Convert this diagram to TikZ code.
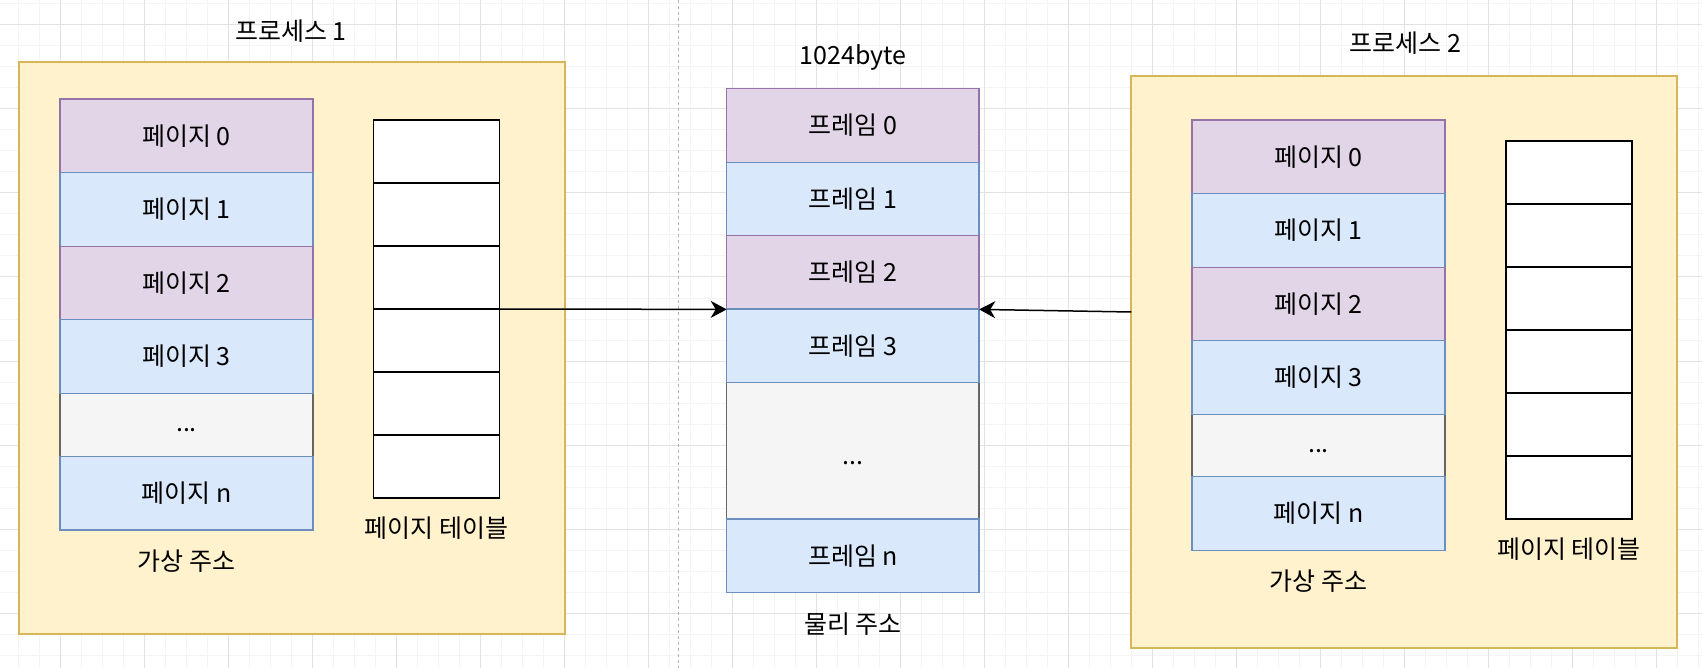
\documentclass[tikz,border=0pt]{standalone}
\usepackage{fontspec}
\setmainfont{Noto Sans CJK KR}
\usetikzlibrary{arrows.meta}
\definecolor{purpF}{HTML}{E1D5E7}
\definecolor{purpD}{HTML}{9673A6}
\definecolor{blueF}{HTML}{DAE8FC}
\definecolor{blueD}{HTML}{6C8EBF}
\definecolor{grayF}{HTML}{F5F5F5}
\definecolor{grayD}{HTML}{666666}
\definecolor{yelF}{HTML}{FFF2CC}
\definecolor{yelD}{HTML}{D6B656}
\definecolor{gridminor}{HTML}{F4F4F4}
\definecolor{gridmajor}{HTML}{E2E2E2}
\definecolor{sepline}{HTML}{B3B3B3}
\tikzset{
  base/.style={inner sep=0pt, outer sep=0pt, anchor=north west, font=\fontsize{25}{29}\selectfont},
  purprow/.style={base, draw=purpD, fill=purpF, line width=1.5pt, minimum width=253pt, minimum height=73.7pt},
  bluerow/.style={base, draw=blueD, fill=blueF, line width=1.5pt, minimum width=253pt, minimum height=73.7pt},
  dotrow/.style={base, draw=grayD, fill=grayF, line width=1.5pt, minimum width=253pt, text height=14pt, text depth=0pt},
  tabrow/.style={base, draw=black, fill=white, line width=1.8pt, minimum width=126pt, minimum height=63pt},
  procbox/.style={base, draw=yelD, fill=yelF, line width=2pt, minimum width=546pt, minimum height=572pt},
  lbl/.style={inner sep=0pt, outer sep=0pt, anchor=center, font=\fontsize{25}{29}\selectfont},
  conn/.style={line width=1.5pt, -{Stealth[length=16pt, width=17pt, inset=5pt]}}
}
\begin{document}
\begin{tikzpicture}[x=1pt,y=-1pt]
\useasboundingbox (0,0) rectangle (1702,668);
\fill[white] (0,0) rectangle (1702,668);
% grid
\foreach \x in {18,39,...,1702} \draw[gridminor, line width=1pt] (\x,0) -- (\x,668);
\foreach \y in {4,25,...,668} \draw[gridminor, line width=1pt] (0,\y) -- (1702,\y);
\foreach \x in {60,144,...,1702} \draw[gridmajor, line width=1pt] (\x,0) -- (\x,668);
\foreach \y in {25,109,...,668} \draw[gridmajor, line width=1pt] (0,\y) -- (1702,\y);
% separator
\draw[sepline, line width=1pt, dash pattern=on 3pt off 3pt] (678.3,0) -- (678.3,668);

% ---------- process 1 ----------
\node[procbox] (p1box) at (18.5,62.3) {};
\node[lbl] (p1title) at (291,31) {프로세스 1};
\node[dotrow, minimum height=63.5pt] (p1dots) at (60,393) {...};
\node[purprow] (p1r0) at (60,99) {페이지 0};
\node[bluerow] (p1r1) at (60,172.7) {페이지 1};
\node[purprow] (p1r2) at (60,246.3) {페이지 2};
\node[bluerow] (p1r3) at (60,319.7) {페이지 3};
\node[bluerow] (p1rn) at (60,456.5) {페이지 n};
\node[lbl] (p1va) at (186.4,561) {가상 주소};
\node[tabrow] (t1r0) at (373.4,120) {};
\node[tabrow] (t1r1) at (373.4,183) {};
\node[tabrow] (t1r2) at (373.4,246) {};
\node[tabrow] (t1r3) at (373.4,309) {};
\node[tabrow] (t1r4) at (373.4,372) {};
\node[tabrow] (t1r5) at (373.4,435) {};
\node[lbl] (t1lbl) at (436.4,528.5) {페이지 테이블};

% ---------- physical memory ----------
\node[lbl] (fsize) at (853,57) {1024byte};
\node[dotrow, minimum width=252.5pt, minimum height=136.3pt, text height=27pt] (fdots) at (726.7,382.7) {...};
\node[purprow, minimum width=252.5pt] (f0) at (726.7,88.7) {프레임 0};
\node[bluerow, minimum width=252.5pt] (f1) at (726.7,162.3) {프레임 1};
\node[purprow, minimum width=252.5pt] (f2) at (726.7,235.7) {프레임 2};
\node[bluerow, minimum width=252.5pt] (f3) at (726.7,309) {프레임 3};
\node[bluerow, minimum width=252.5pt] (fn) at (726.7,519) {프레임 n};
\node[lbl] (fpa) at (853,624) {물리 주소};

% ---------- process 2 ----------
\node[procbox] (p2box) at (1131.3,76) {};
\node[lbl] (p2title) at (1405.5,43) {프로세스 2};
\node[dotrow, minimum height=62.4pt] (p2dots) at (1192,414.3) {...};
\node[purprow] (p2r0) at (1192,120) {페이지 0};
\node[bluerow] (p2r1) at (1192,193.7) {페이지 1};
\node[purprow] (p2r2) at (1192,267.3) {페이지 2};
\node[bluerow] (p2r3) at (1192,340.7) {페이지 3};
\node[bluerow] (p2rn) at (1192,476.7) {페이지 n};
\node[lbl] (p2va) at (1318.5,581) {가상 주소};
\node[tabrow] (t2r0) at (1506,141) {};
\node[tabrow] (t2r1) at (1506,204) {};
\node[tabrow] (t2r2) at (1506,267) {};
\node[tabrow] (t2r3) at (1506,330) {};
\node[tabrow] (t2r4) at (1506,393) {};
\node[tabrow] (t2r5) at (1506,456) {};
\node[lbl] (t2lbl) at (1569,549) {페이지 테이블};

% ---------- connectors ----------
\coordinate (a2s) at (1131.3,312);
\draw[conn] (t1r3.north east) -- (f2.south west);
\draw[conn] (a2s) -- (f2.south east);
\end{tikzpicture}
\end{document}
